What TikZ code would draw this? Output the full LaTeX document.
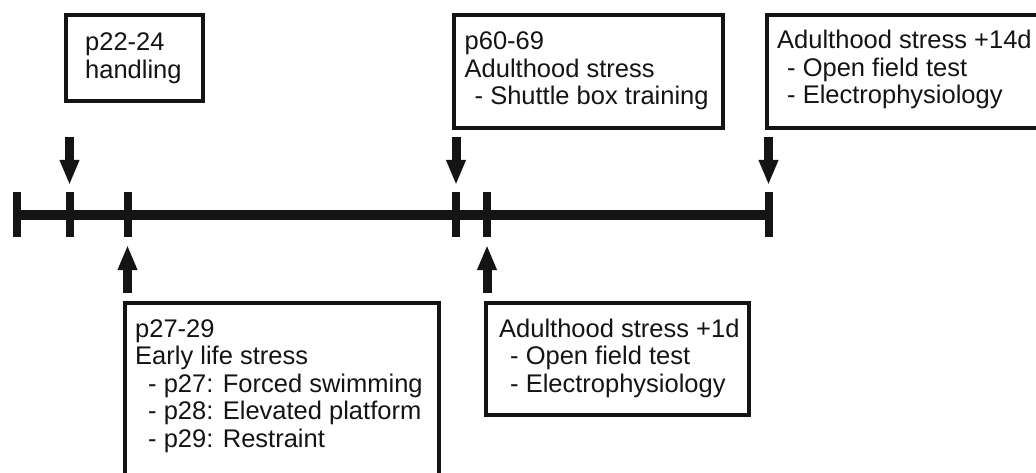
\documentclass[tikz,border=0pt]{standalone}
\usepackage{fontspec}
\setmainfont{Liberation Sans}
\usetikzlibrary{arrows.meta}
\definecolor{ink}{HTML}{141414}
\begin{document}
\begin{tikzpicture}[x=1pt,y=-1pt,
  box/.style={draw=ink, line width=4pt, inner sep=0pt},
  txt/.style={anchor=base west, inner sep=0pt, text=ink, font=\fontsize{25.5}{27.5}\selectfont},
  tline/.style={draw=ink, line width=9.5pt},
  tickmark/.style={draw=ink, line width=8pt},
  arr/.style={draw=ink, line width=9pt, -{Triangle[width=18pt,length=25pt]}}]
\useasboundingbox (0,0) rectangle (1036,473);
\clip (0,0) rectangle (1036,473);
\fill[white] (0,0) rectangle (1036,473);

% timeline tick positions
\coordinate (k1) at (16.5,215);
\coordinate (k2) at (69.5,215);
\coordinate (k3) at (127.5,215);
\coordinate (k4) at (456,215);
\coordinate (k5) at (487,215);
\coordinate (k6) at (768.5,215);

\draw[tline] (k1) -- (k6);
\foreach \k in {k1,k2,k3,k4,k5,k6}
  \draw[tickmark] ([yshift=23pt]\k) -- ([yshift=-22pt]\k);

% boxes
\node[box, minimum width=136.5pt, minimum height=86pt] (b1) at (134.25,58.5) {};
\node[box, minimum width=269.2pt, minimum height=112.5pt] (b2) at (588.4,71.75) {};
\node[box, minimum width=278.3pt, minimum height=112.5pt] (b3) at (905.85,71.75) {};
\node[box, minimum width=314.5pt, minimum height=187.5pt] (b4) at (281.75,396.25) {};
\node[box, minimum width=263.3pt, minimum height=112pt] (b5) at (617.35,358.5) {};

% texts
\node[txt] (t1) at (85,51) {\begin{tabular}[t]{@{}l@{}}p22-24\\handling\end{tabular}};
\node[txt] (t2) at (464.5,50) {\begin{tabular}[t]{@{}l@{}}p60-69\\Adulthood stress\\\hspace*{10pt}- Shuttle box training\end{tabular}};
\node[txt] (t3) at (777,49) {\begin{tabular}[t]{@{}l@{}}Adulthood stress +14d\\\hspace*{10pt}- Open field test\\\hspace*{10pt}- Electrophysiology\end{tabular}};
\node[txt] (t4) at (135,337) {\begin{tabular}[t]{@{}l@{}}p27-29\\Early life stress\\\hspace*{13pt}- p27: Forced swimming\\\hspace*{13pt}- p28: Elevated platform\\\hspace*{13pt}- p29: Restraint\end{tabular}};
\node[txt] (t5) at (499,337) {\begin{tabular}[t]{@{}l@{}}Adulthood stress +1d\\\hspace*{11pt}- Open field test\\\hspace*{11pt}- Electrophysiology\end{tabular}};

% arrow free ends
\coordinate (a2) at (69.5,137);
\coordinate (a4) at (456,137);
\coordinate (a6) at (768.5,137);
\coordinate (a3) at (127.5,293);
\coordinate (a5) at (487,293);

\draw[arr] (a2) -- ([yshift=30pt]k2);
\draw[arr] (a4) -- ([yshift=30pt]k4);
\draw[arr] (a6) -- ([yshift=30pt]k6);
\draw[arr] (a3) -- ([yshift=-30pt]k3);
\draw[arr] (a5) -- ([yshift=-30pt]k5);
\end{tikzpicture}
\end{document}
